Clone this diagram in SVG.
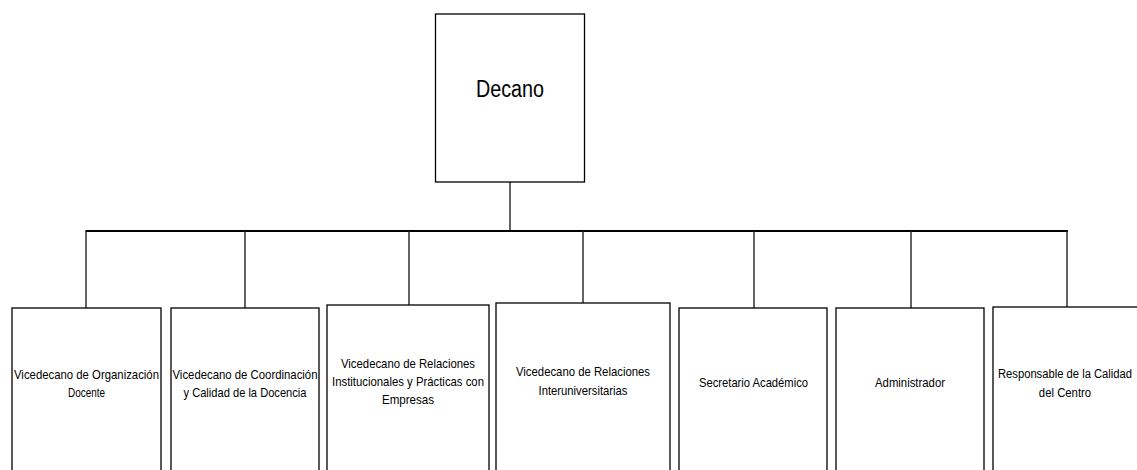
<svg xmlns="http://www.w3.org/2000/svg" width="1137" height="470" viewBox="0 0 1137 470">
<style>
.box{fill:#fff;stroke:#000;stroke-width:1.3}
.t{font-family:"Liberation Sans",Arial,sans-serif;font-size:13.5px;fill:#000;text-anchor:middle}
.big{font-family:"Liberation Sans",Arial,sans-serif;font-size:23.5px;fill:#000;text-anchor:middle}
.bus{stroke:#000;stroke-width:2;fill:none}
.drop{stroke:#222;stroke-width:1.4;fill:none}
</style>
<rect width="1137" height="470" fill="#fff"/>
<g id="connectors">
<line class="drop" x1="510" y1="182" x2="510" y2="231"/>
<line class="bus" x1="85.5" y1="231" x2="1068" y2="231"/>
<line class="drop" x1="86" y1="231" x2="86" y2="308"/>
<line class="drop" x1="245" y1="231" x2="245" y2="308"/>
<line class="drop" x1="409" y1="231" x2="409" y2="305"/>
<line class="drop" x1="583" y1="231" x2="583" y2="303"/>
<line class="drop" x1="754" y1="231" x2="754" y2="308"/>
<line class="drop" x1="911" y1="231" x2="911" y2="308"/>
<line class="drop" x1="1067" y1="231" x2="1067" y2="307"/>
</g>
<g id="decano">
<rect class="box" x="435.5" y="14" width="149" height="168"/>
<text class="big" x="510" y="97" textLength="68" lengthAdjust="spacingAndGlyphs">Decano</text>
</g>
<g id="vd-organizacion">
<rect class="box" x="12" y="308" width="149" height="180"/>
<text class="t" x="86.5" y="379" textLength="145" lengthAdjust="spacingAndGlyphs">Vicedecano de Organización</text>
<text class="t" x="86.5" y="397" textLength="37" lengthAdjust="spacingAndGlyphs">Docente</text>
</g>
<g id="vd-coordinacion">
<rect class="box" x="171" y="308" width="148" height="180"/>
<text class="t" x="245" y="379" textLength="145" lengthAdjust="spacingAndGlyphs">Vicedecano de Coordinación</text>
<text class="t" x="245" y="397" textLength="123" lengthAdjust="spacingAndGlyphs">y Calidad de la Docencia</text>
</g>
<g id="vd-relaciones-inst">
<rect class="box" x="327" y="305" width="162" height="180"/>
<text class="t" x="408" y="368" textLength="134" lengthAdjust="spacingAndGlyphs">Vicedecano de Relaciones</text>
<text class="t" x="408" y="386" textLength="152" lengthAdjust="spacingAndGlyphs">Institucionales y Prácticas con</text>
<text class="t" x="408" y="404" textLength="52" lengthAdjust="spacingAndGlyphs">Empresas</text>
</g>
<g id="vd-relaciones-inter">
<rect class="box" x="496" y="303" width="174" height="180"/>
<text class="t" x="583" y="376" textLength="134" lengthAdjust="spacingAndGlyphs">Vicedecano de Relaciones</text>
<text class="t" x="583" y="395" textLength="89" lengthAdjust="spacingAndGlyphs">Interuniversitarias</text>
</g>
<g id="secretario">
<rect class="box" x="679" y="308" width="148" height="180"/>
<text class="t" x="753.5" y="387" textLength="109" lengthAdjust="spacingAndGlyphs">Secretario Académico</text>
</g>
<g id="administrador">
<rect class="box" x="836" y="308" width="148" height="180"/>
<text class="t" x="910" y="387" textLength="70" lengthAdjust="spacingAndGlyphs">Administrador</text>
</g>
<g id="responsable-calidad">
<rect class="box" x="993" y="307" width="145" height="180"/>
<text class="t" transform="translate(1065,378) scale(0.832,1)">Responsable de la Calidad</text>
<text class="t" transform="translate(1065,397) scale(0.84,1)">del Centro</text>
</g>
</svg>
